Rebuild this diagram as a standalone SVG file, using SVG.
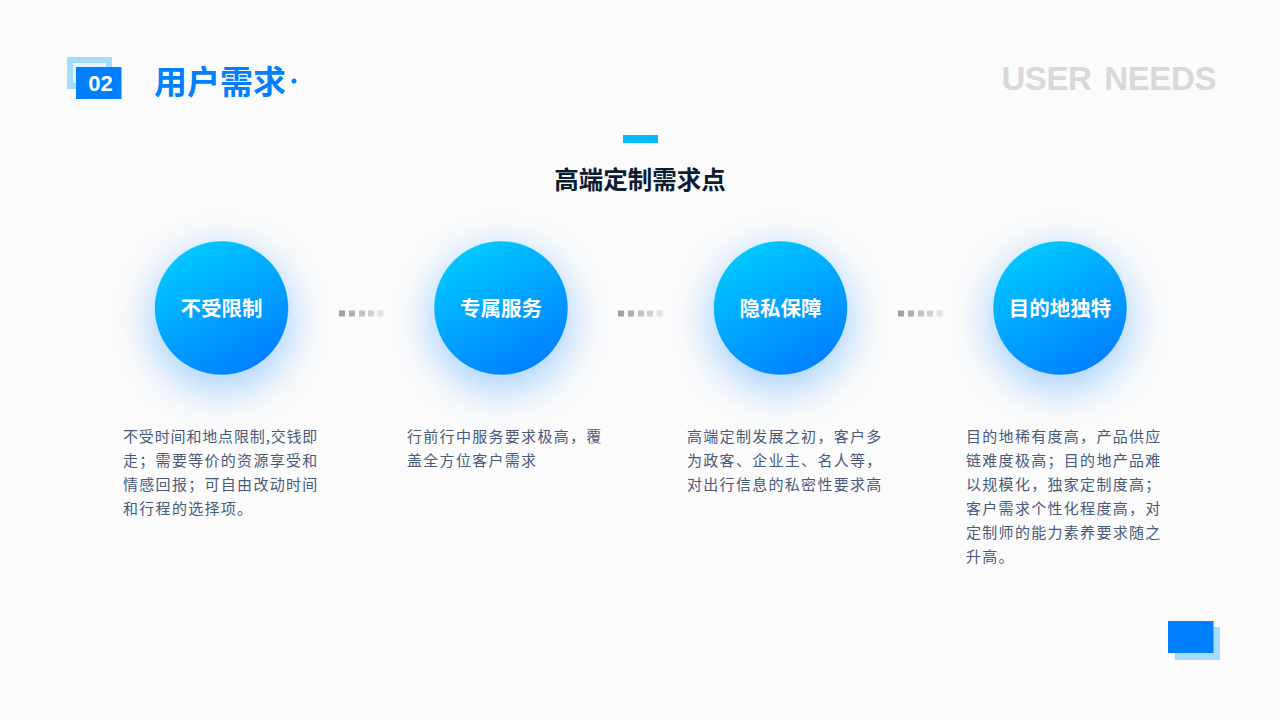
<svg xmlns="http://www.w3.org/2000/svg" width="1280" height="720" viewBox="0 0 1280 720">
<style>
text{font-family:"Noto Sans CJK SC","Noto Sans",sans-serif}
.t{font-size:20.500px;font-weight:700;fill:#fff;text-anchor:middle}
.b{font-size:15px;fill:#4a5a7a;letter-spacing:1.3px}
.halo{fill:#0080ff;opacity:.34;filter:url(#s)}
.disc{fill:url(#g);stroke:#fff;stroke-opacity:.5;stroke-width:.8}
</style>
<defs>
<linearGradient id="g" x1="0.25" y1="0.05" x2="0.75" y2="0.95"><stop offset="0" stop-color="#00c8ff"/><stop offset="1" stop-color="#0080ff"/></linearGradient>
<filter id="s" x="-60%" y="-60%" width="220%" height="220%"><feGaussianBlur stdDeviation="20"/></filter>
<g id="dots"><rect x="0" width="6" height="6" fill="#a0a0a0"/><rect x="10" width="6" height="6" fill="#b0b0b0"/><rect x="20" width="6" height="6" fill="#c2c2c2"/><rect x="29" width="6" height="6" fill="#d0d0d0"/><rect x="38.500" width="6" height="6" fill="#e4e4e4"/></g>
</defs>
<rect width="1280" height="720" fill="#fbfbfb"/>
<g id="header">
<rect x="70" y="60" width="39" height="26" fill="#e4f5ff" stroke="#a3dcfd" stroke-width="6"/>
<rect x="76" y="67" width="45.500" height="32" fill="#0080ff"/>
<text x="100.500" y="90.500" text-anchor="middle" style="font-family:'Liberation Sans',sans-serif;font-size:22px;font-weight:700" fill="#fff">02</text>
<text x="154" y="94" style="font-size:33px;font-weight:700" fill="#0080ff">用户需求</text>
<circle cx="294" cy="81" r="2.500" fill="#0080ff"/>
<text x="1216" y="90" text-anchor="end" style="font-family:'Liberation Sans',sans-serif;font-size:33px;font-weight:700;letter-spacing:-.4px;word-spacing:4px" fill="#d9d9d9">USER NEEDS</text>
</g>
<g id="title">
<rect x="623" y="135" width="35" height="8" fill="#00bbff"/>
<text x="640" y="189" text-anchor="middle" style="font-size:24.500px;font-weight:700" fill="#0c1c33">高端定制需求点</text>
</g>
<g id="connectors">
<use href="#dots" x="339" y="310.500"/>
<use href="#dots" x="618" y="310.500"/>
<use href="#dots" x="898" y="310.500"/>
</g>
<g id="node1"><circle class="halo" cx="221.500" cy="320" r="70"/><circle class="disc" cx="221.500" cy="308" r="67"/><text class="t" x="221.500" y="315.500">不受限制</text>
<text class="b"><tspan x="123" y="441.500" style="letter-spacing:.85px">不受时间和地点限制,交钱即</tspan><tspan x="123" y="465.500">走；需要等价的资源享受和</tspan><tspan x="123" y="489.500">情感回报；可自由改动时间</tspan><tspan x="123" y="513.500">和行程的选择项。</tspan></text></g>
<g id="node2"><circle class="halo" cx="501" cy="320" r="70"/><circle class="disc" cx="501" cy="308" r="67"/><text class="t" x="501" y="315.500">专属服务</text>
<text class="b"><tspan x="407" y="441.500">行前行中服务要求极高，覆</tspan><tspan x="407" y="465.500">盖全方位客户需求</tspan></text></g>
<g id="node3"><circle class="halo" cx="780.500" cy="320" r="70"/><circle class="disc" cx="780.500" cy="308" r="67"/><text class="t" x="780.500" y="315.500">隐私保障</text>
<text class="b"><tspan x="687" y="441.500">高端定制发展之初，客户多</tspan><tspan x="687" y="465.500">为政客、企业主、名人等，</tspan><tspan x="687" y="489.500">对出行信息的私密性要求高</tspan></text></g>
<g id="node4"><circle class="halo" cx="1060" cy="320" r="70"/><circle class="disc" cx="1060" cy="308" r="67"/><text class="t" x="1060" y="315.500">目的地独特</text>
<text class="b"><tspan x="966" y="441.500">目的地稀有度高，产品供应</tspan><tspan x="966" y="465.500">链难度极高；目的地产品难</tspan><tspan x="966" y="489.500">以规模化，独家定制度高；</tspan><tspan x="966" y="513.500">客户需求个性化程度高，对</tspan><tspan x="966" y="537.500">定制师的能力素养要求随之</tspan><tspan x="966" y="561.500">升高。</tspan></text></g>
<g id="corner">
<rect x="1175" y="627" width="45" height="33" fill="#a3dcfd"/>
<rect x="1168" y="621" width="45.500" height="32" fill="#0080ff"/>
</g>
</svg>
